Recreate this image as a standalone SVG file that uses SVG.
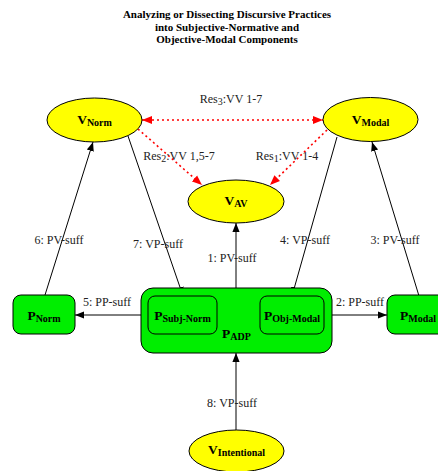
<svg xmlns="http://www.w3.org/2000/svg" width="438" height="471" viewBox="0 0 438 471">
<defs>
<marker id="ab" viewBox="0 0 10 10" refX="10" refY="5" markerWidth="9" markerHeight="9" markerUnits="userSpaceOnUse" orient="auto"><path d="M0,1 L10,5 L0,9 Z" fill="#000"/></marker>
<marker id="ar" viewBox="0 0 10 10" refX="10" refY="5" markerWidth="10" markerHeight="10" markerUnits="userSpaceOnUse" orient="auto-start-reverse"><path d="M0,1 L10,5 L0,9 Z" fill="#f00"/></marker>
</defs>
<style>
.t{font-family:"Liberation Serif","DejaVu Serif",serif;font-weight:bold;font-size:11px;fill:#000}
.n{font-family:"Liberation Serif","DejaVu Serif",serif;font-weight:bold;font-size:13.5px;fill:#000}
.s{font-size:10px}
.l{font-family:"Liberation Serif","DejaVu Serif",serif;font-size:12px;fill:#222}
.e{stroke:#000;stroke-width:1;fill:none;marker-end:url(#ab)}
.r{stroke:#f00;stroke-width:1.6;fill:none;stroke-dasharray:2,3;marker-end:url(#ar)}
.v{fill:#ff0;stroke:#000;stroke-width:1}
.p{fill:#0e0;stroke:#000;stroke-width:1}
</style>
<rect width="438" height="471" fill="#fff"/>
<g id="title" class="t" text-anchor="middle">
<text x="227" y="18">Analyzing or Dissecting Discursive Practices</text>
<text x="227" y="31">into Subjective-Normative and</text>
<text x="227" y="43">Objective-Modal Components</text>
</g>
<g id="connectors">
<line class="e" x1="236" y1="288" x2="236" y2="223"/>
<line class="e" x1="236" y1="430" x2="236" y2="353"/>
<line class="e" x1="148" y1="315" x2="75" y2="315"/>
<line class="e" x1="324" y1="315" x2="387" y2="315"/>
<line class="e" x1="45" y1="295" x2="93" y2="142"/>
<line class="e" x1="128" y1="136" x2="183" y2="296"/>
<line class="e" x1="337" y1="137" x2="292" y2="296"/>
<line class="e" x1="419" y1="296" x2="372" y2="142"/>
<line class="r" x1="142" y1="120" x2="323" y2="120" style="marker-start:url(#ar)"/>
<line class="r" x1="138" y1="129" x2="202" y2="185"/>
<line class="r" x1="327" y1="130" x2="270" y2="185"/>
<g class="l" text-anchor="middle">
<text x="232" y="262">1: PV-suff</text>
<text x="232" y="407">8: VP-suff</text>
<text x="107" y="306">5: PP-suff</text>
<text x="360" y="306">2: PP-suff</text>
<text x="59" y="244">6: PV-suff</text>
<text x="158" y="248">7: VP-suff</text>
<text x="305" y="244">4: VP-suff</text>
<text x="395" y="244">3: PV-suff</text>
<text x="231" y="103">Res<tspan class="s" dy="2">3</tspan><tspan dy="-2">:VV 1-7</tspan></text>
<text x="179" y="160">Res<tspan class="s" dy="2">2</tspan><tspan dy="-2">:VV 1,5-7</tspan></text>
<text x="287" y="160">Res<tspan class="s" dy="2">1</tspan><tspan dy="-2">:VV 1-4</tspan></text>
</g>
</g>
<g id="VNorm"><ellipse class="v" cx="94.5" cy="120" rx="47.5" ry="22"/><text class="n" x="94.5" y="124" text-anchor="middle">V<tspan class="s" dy="2">Norm</tspan></text></g>
<g id="VModal"><ellipse class="v" cx="370.5" cy="119.5" rx="47.5" ry="22"/><text class="n" x="370.5" y="124" text-anchor="middle">V<tspan class="s" dy="2">Modal</tspan></text></g>
<g id="VAV"><ellipse class="v" cx="236" cy="201.5" rx="48" ry="21.5"/><text class="n" x="236" y="205" text-anchor="middle">V<tspan class="s" dy="2">AV</tspan></text></g>
<g id="VIntentional"><ellipse class="v" cx="236.5" cy="451" rx="47.5" ry="21"/><text class="n" x="236.5" y="454" text-anchor="middle">V<tspan class="s" dy="2">Intentional</tspan></text></g>
<g id="PNorm"><rect class="p" x="13" y="295" width="62" height="39" rx="8"/><text class="n" x="44" y="320" text-anchor="middle">P<tspan class="s" dy="2">Norm</tspan></text></g>
<g id="PModal"><rect class="p" x="387" y="295" width="62" height="39" rx="8"/><text class="n" x="418" y="320" text-anchor="middle">P<tspan class="s" dy="2">Modal</tspan></text></g>
<g id="PADP"><rect class="p" x="141" y="288" width="191" height="65" rx="12"/><text class="n" x="236.5" y="338" text-anchor="middle">P<tspan class="s" dy="2">ADP</tspan></text></g>
<g id="PSubjNorm"><rect class="p" x="148" y="296" width="69" height="38" rx="7"/><text class="n" x="182.5" y="320" text-anchor="middle">P<tspan class="s" dy="2">Subj-Norm</tspan></text></g>
<g id="PObjModal"><rect class="p" x="260" y="296" width="64" height="38" rx="7"/><text class="n" x="292" y="320" text-anchor="middle">P<tspan class="s" dy="2">Obj-Modal</tspan></text></g>
</svg>
